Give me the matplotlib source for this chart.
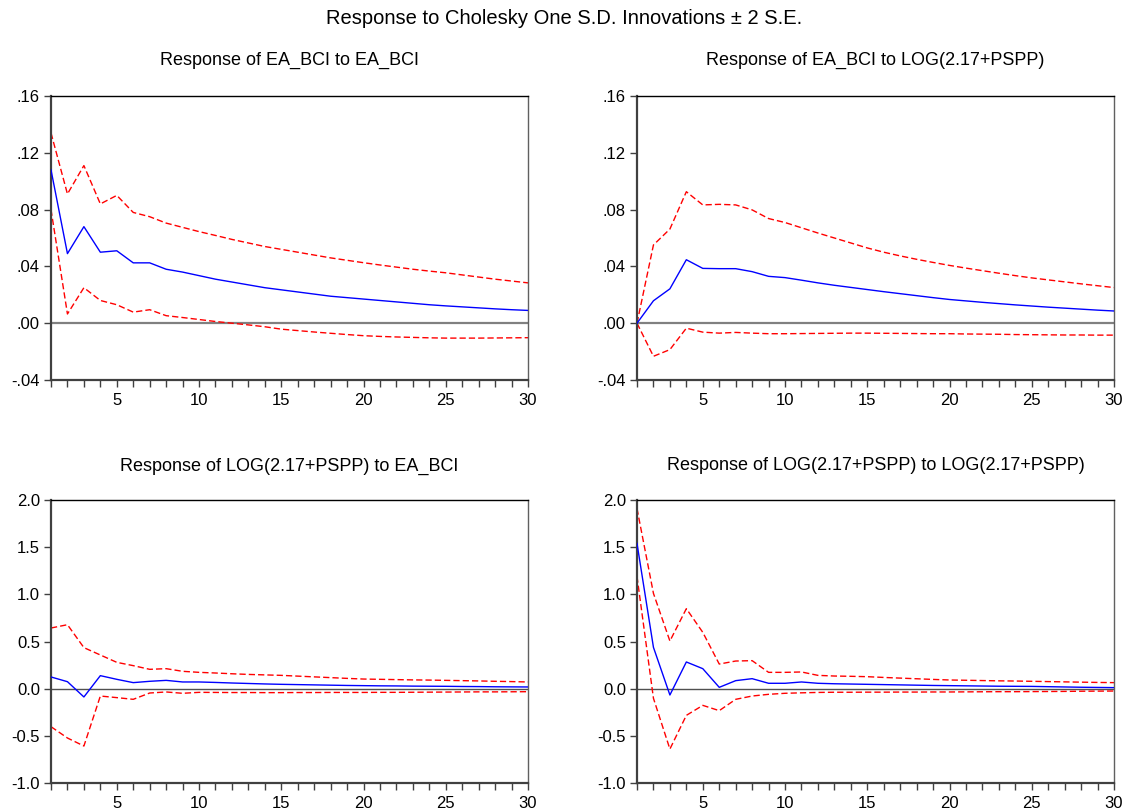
import matplotlib

matplotlib.use("Agg")
import matplotlib.pyplot as plt
import matplotlib.ticker as ticker
import numpy as np

plt.rcParams["font.family"] = ["Liberation Sans", "DejaVu Sans"]
plt.rcParams["font.size"] = 11
plt.rcParams["axes.linewidth"] = 1.0

FIG_W, FIG_H = 1128, 809

periods = list(range(1, 31))

# Response of EA_BCI to EA_BCI
bci_bci = [0.108, 0.049, 0.068, 0.050, 0.051, 0.0425, 0.0425, 0.038, 0.036, 0.0335,
           0.031, 0.029, 0.027, 0.025, 0.0235, 0.022, 0.0205, 0.019, 0.018, 0.017,
           0.016, 0.015, 0.014, 0.013, 0.0122, 0.0115, 0.0108, 0.0101, 0.0095, 0.009]
bci_bci_hi = [0.134, 0.091, 0.111, 0.084, 0.090, 0.078, 0.075, 0.0705, 0.0675, 0.0645,
              0.0618, 0.059, 0.0565, 0.054, 0.052, 0.050, 0.048, 0.046, 0.0443, 0.0426,
              0.041, 0.0395, 0.038, 0.0367, 0.0355, 0.034, 0.0325, 0.031, 0.0297, 0.0284]
bci_bci_lo = [0.080, 0.0065, 0.025, 0.016, 0.013, 0.0078, 0.0095, 0.0053, 0.004, 0.0026,
              0.0012, 0.0, -0.0012, -0.0025, -0.0042, -0.0052, -0.0062, -0.0071, -0.008, -0.0088,
              -0.0093, -0.0097, -0.0100, -0.0103, -0.0105, -0.0105, -0.0105, -0.0104, -0.0103, -0.0102]

# Response of EA_BCI to LOG(2.17+PSPP)
bci_pspp = [0.0, 0.0158, 0.0242, 0.0447, 0.0386, 0.0384, 0.0384, 0.0363, 0.033, 0.0321,
            0.0303, 0.0284, 0.0267, 0.0252, 0.0237, 0.0222, 0.0208, 0.0194, 0.018, 0.0167,
            0.0157, 0.0147, 0.0138, 0.0129, 0.0121, 0.0113, 0.0106, 0.0099, 0.0092, 0.0086]
bci_pspp_hi = [0.0, 0.0551, 0.0663, 0.0926, 0.0833, 0.0837, 0.0833, 0.0798, 0.0737, 0.0709,
               0.0672, 0.0635, 0.060, 0.0565, 0.053, 0.050, 0.0474, 0.045, 0.0428, 0.0407,
               0.0388, 0.037, 0.0352, 0.0335, 0.0319, 0.0305, 0.0291, 0.0277, 0.0264, 0.0251]
bci_pspp_lo = [0.0, -0.0233, -0.0186, -0.0035, -0.0063, -0.007, -0.0065, -0.007, -0.0074, -0.0074,
               -0.0073, -0.0072, -0.0071, -0.0070, -0.0070, -0.0071, -0.0072, -0.0073, -0.0074, -0.0074,
               -0.0076, -0.0077, -0.0078, -0.008, -0.0081, -0.0082, -0.0083, -0.0083, -0.0084, -0.0084]

# Response of LOG(2.17+PSPP) to EA_BCI
pspp_bci = [0.124, 0.074, -0.088, 0.138, 0.099, 0.064, 0.078, 0.088, 0.071, 0.071,
            0.066, 0.060, 0.055, 0.050, 0.046, 0.043, 0.040, 0.037, 0.034, 0.032,
            0.030, 0.029, 0.027, 0.026, 0.025, 0.023, 0.022, 0.020, 0.019, 0.018]
pspp_bci_hi = [0.643, 0.678, 0.435, 0.357, 0.279, 0.244, 0.205, 0.212, 0.184, 0.173,
               0.166, 0.158, 0.151, 0.146, 0.141, 0.133, 0.125, 0.117, 0.109, 0.102,
               0.099, 0.096, 0.093, 0.091, 0.088, 0.085, 0.082, 0.078, 0.075, 0.071]
pspp_bci_lo = [-0.403, -0.523, -0.608, -0.078, -0.095, -0.113, -0.046, -0.035, -0.049, -0.039,
               -0.040, -0.041, -0.041, -0.042, -0.042, -0.041, -0.041, -0.040, -0.040, -0.040,
               -0.039, -0.039, -0.038, -0.037, -0.036, -0.035, -0.034, -0.034, -0.033, -0.032]

# Response of LOG(2.17+PSPP) to LOG(2.17+PSPP)
pspp_pspp = [1.54, 0.438, -0.067, 0.283, 0.212, 0.014, 0.085, 0.106, 0.057, 0.057,
             0.071, 0.057, 0.052, 0.049, 0.046, 0.043, 0.040, 0.037, 0.034, 0.032,
             0.030, 0.028, 0.026, 0.025, 0.024, 0.021, 0.018, 0.015, 0.013, 0.011]
pspp_pspp_hi = [1.91, 1.01, 0.505, 0.848, 0.597, 0.261, 0.293, 0.297, 0.173, 0.173,
                0.177, 0.141, 0.134, 0.131, 0.127, 0.119, 0.112, 0.105, 0.098, 0.092,
                0.089, 0.086, 0.083, 0.081, 0.078, 0.075, 0.072, 0.069, 0.066, 0.064]
pspp_pspp_lo = [1.19, -0.102, -0.64, -0.283, -0.177, -0.233, -0.113, -0.078, -0.060, -0.049,
                -0.044, -0.040, -0.038, -0.038, -0.037, -0.037, -0.036, -0.036, -0.035, -0.035,
                -0.034, -0.033, -0.032, -0.032, -0.031, -0.030, -0.029, -0.027, -0.026, -0.025]

top_yticks = [-0.04, 0.0, 0.04, 0.08, 0.12, 0.16]
top_yticklabels = ["-.04", ".00", ".04", ".08", ".12", ".16"]
bot_yticks = [-1.0, -0.5, 0.0, 0.5, 1.0, 1.5, 2.0]
bot_yticklabels = ["-1.0", "-0.5", "0.0", "0.5", "1.0", "1.5", "2.0"]
xticks = [5, 10, 15, 20, 25, 30]

main_title = "Response to Cholesky One S.D. Innovations \u00b1 2 S.E."
panel_titles = [
    "Response of EA_BCI to EA_BCI",
    "Response of EA_BCI to LOG(2.17+PSPP)",
    "Response of LOG(2.17+PSPP) to EA_BCI",
    "Response of LOG(2.17+PSPP) to LOG(2.17+PSPP)",
]


def px_axes(fig, left, top, right, bottom):
    return fig.add_axes([left / FIG_W, 1 - bottom / FIG_H,
                         (right - left) / FIG_W, (bottom - top) / FIG_H])


def draw_panel(ax, title, title_y, mid, hi, lo, yticks, ylabels, zero_lw, zero_color):
    ax.axhline(0.0, color=zero_color, lw=zero_lw, zorder=1)
    ax.plot(periods, hi, color="#ff0000", lw=1.0, ls=(0, (4.5, 2.2)), zorder=2)
    ax.plot(periods, lo, color="#ff0000", lw=1.0, ls=(0, (4.5, 2.2)), zorder=2)
    ax.plot(periods, mid, color="#0000ff", lw=1.0, zorder=3)
    ax.set_xlim(1, 30)
    ax.set_ylim(yticks[0], yticks[-1])
    ax.set_xticks(xticks)
    ax.xaxis.set_minor_locator(ticker.MultipleLocator(1))
    ax.set_yticks(yticks)
    ax.set_yticklabels(ylabels)
    ax.tick_params(axis="both", which="both", direction="out", length=5,
                   width=1.0, color="#404040", labelsize=12)
    ax.tick_params(axis="x", pad=4)
    ax.tick_params(axis="y", pad=3)
    for side in ("left", "bottom"):
        ax.spines[side].set_linewidth(1.6)
        ax.spines[side].set_color("#404040")
    ax.spines["top"].set_linewidth(1.0)
    ax.spines["right"].set_linewidth(1.0)
    ax.spines["right"].set_color("#606060")
    bb = ax.get_position()
    fig.text((bb.x0 + bb.x1) / 2, 1 - title_y / FIG_H, title,
             ha="center", va="center", fontsize=13)


fig = plt.figure(figsize=(FIG_W / 100, FIG_H / 100), dpi=100)
ax1 = px_axes(fig, 51, 96, 528, 380)
ax2 = px_axes(fig, 637, 96, 1114, 380)
ax3 = px_axes(fig, 51, 500, 528, 783)
ax4 = px_axes(fig, 637, 500, 1114, 783)

draw_panel(ax1, panel_titles[0], 60, bci_bci, bci_bci_hi, bci_bci_lo,
           top_yticks, top_yticklabels, 1.6, "#808080")
draw_panel(ax2, panel_titles[1], 60, bci_pspp, bci_pspp_hi, bci_pspp_lo,
           top_yticks, top_yticklabels, 1.6, "#808080")
draw_panel(ax3, panel_titles[2], 466, pspp_bci, pspp_bci_hi, pspp_bci_lo,
           bot_yticks, bot_yticklabels, 1.0, "#505050")
draw_panel(ax4, panel_titles[3], 466, pspp_pspp, pspp_pspp_hi, pspp_pspp_lo,
           bot_yticks, bot_yticklabels, 1.0, "#505050")

fig.text(0.5, 1 - 19 / FIG_H, main_title, ha="center", va="center", fontsize=14.5)

fig.savefig("out.png", dpi=100)
plt.close(fig)
